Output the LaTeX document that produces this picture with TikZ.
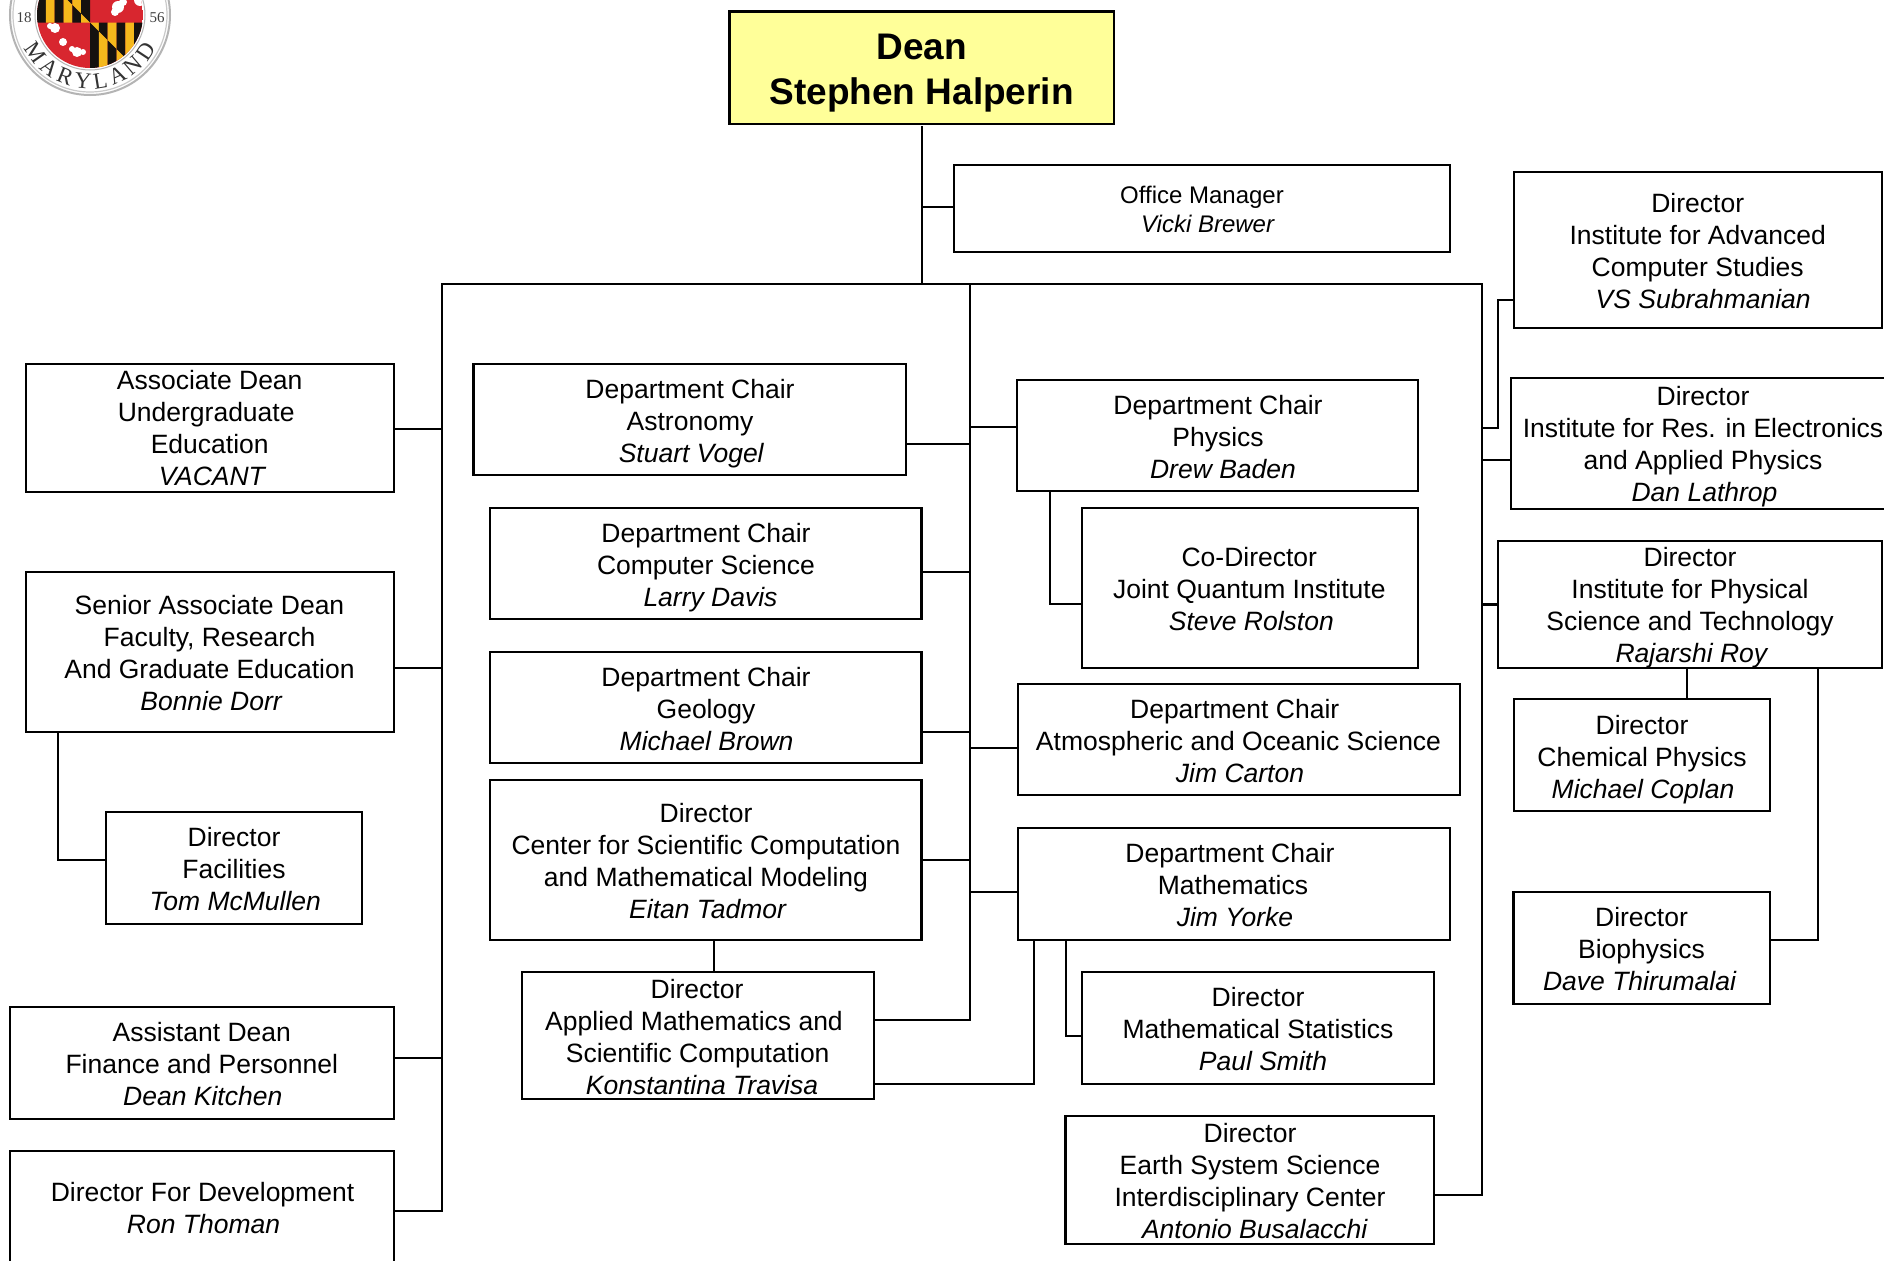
\documentclass[tikz,border=0pt]{standalone}
\usepackage{fontspec}
\setmainfont{Liberation Sans}
\newfontfamily\logoserif{Liberation Serif}
\usetikzlibrary{decorations.text}
\definecolor{deanfill}{HTML}{FFFF99}
\definecolor{cgold}{HTML}{F5B81C}
\definecolor{cblack}{HTML}{15120F}
\definecolor{cred}{HTML}{D8262F}
\definecolor{ringgrey}{HTML}{B4B4B4}
\tikzset{
  orgbox/.style={draw=black,line width=2.2pt,fill=white,inner sep=0pt,outer sep=0pt},
  orgtext/.style={inner sep=0pt,align=center,yshift=-3pt,font=\fontsize{26.5}{32}\selectfont},
  smalltext/.style={orgtext,font=\fontsize{24}{29}\selectfont},
  deantext/.style={orgtext,yshift=-1pt,font=\fontsize{37}{45}\selectfont\bfseries},
  link/.style={draw=black,line width=2.2pt,line cap=rect},
}
% [text style], name, x1, y1, x2, y2, text centre x, text centre y, text
\newcommand\OrgBox[9][orgtext]{%
  \pgfmathsetmacro\bw{#5-#3}\pgfmathsetmacro\bh{#6-#4}%
  \pgfmathsetmacro\bx{(#3+#5)/2}\pgfmathsetmacro\by{(#4+#6)/2}%
  \node[orgbox,minimum width=\bw pt,minimum height=\bh pt] (#2) at (\bx,\by) {};
  \node[#1] (#2-t) at (#7,#8) {\strut #9\strut};
}
\newcommand\Sh[1]{\hspace*{\dimexpr 2\dimexpr #1pt\relax\relax}}
\newcommand\Nm[2][4.5]{\Sh{#1}\textit{#2}}
\newcommand\Lk[3]{\draw[link] (#1 |- 0,#3) -- (#2 |- 0,#3);}
\newcommand\Calvert[2]{%
  \foreach \i in {0,...,5}{%
    \ifodd\i \def\ca{cblack}\def\cb{cgold}\else \def\ca{cgold}\def\cb{cblack}\fi
    \fill[\ca] ({#1+\i*8.84},{#2}) -- ({#1+(\i+1)*8.84},{#2}) -- ({#1+(\i+1)*8.84},{#2-(\i+1)*8.84}) -- ({#1+\i*8.84},{#2-\i*8.84}) -- cycle;
    \fill[\cb] ({#1+\i*8.84},{#2-\i*8.84}) -- ({#1+(\i+1)*8.84},{#2-(\i+1)*8.84}) -- ({#1+(\i+1)*8.84},{#2-53}) -- ({#1+\i*8.84},{#2-53}) -- cycle;
  }%
}
\begin{document}
\begin{tikzpicture}[x=1pt,y=-1pt]
\useasboundingbox (0,0) rectangle (1884,1260.5);
\clip (0,0) rectangle (1884,1262);
\fill[white] (0,0) rectangle (1884,1262);

% seal
\begin{scope}[shift={(90,15)},x=1pt,y=1pt]
  \draw[ringgrey,line width=2pt,fill=white] (0,0) circle[radius=80];
  \draw[ringgrey!70,line width=1.2pt] (0,0) circle[radius=77];
  \draw[ringgrey,line width=1pt] (0,0) circle[radius=55];
  \begin{scope}
    \clip (0,0) circle[radius=53];
    \fill[cred] (-53,-70) rectangle (53,60);
    \Calvert{-53}{45.3}
    \Calvert{0}{-7.7}
    \fill[white] (28,8) circle[radius=6] (33,13) circle[radius=4] (25,3) circle[radius=4] (50,15) circle[radius=6];
    \fill[white] (-35,-13) circle[radius=5] (-40,-11) circle[radius=3] (-27,-27) circle[radius=4] (-18,-34) circle[radius=3] (-13,-37) circle[radius=5] (-7,-37) circle[radius=3];
  \end{scope}
  \node[font=\logoserif\fontsize{15}{15}\selectfont,text=black!75,inner sep=0pt] (seal18) at (-66,-2.3) {18};
  \node[font=\logoserif\fontsize{15}{15}\selectfont,text=black!75,inner sep=0pt] (seal56) at (67,-2.3) {56};
  \path[decorate,decoration={text along path,text align={fit to path},
     text={|\logoserif\fontsize{23}{23}\selectfont\color{black!80}|MARYLAND}}]
     (207:74) arc[start angle=207,end angle=333,radius=74];
\end{scope}

% boxes
\begin{scope}[orgbox/.append style={fill=deanfill,line width=2.4pt}]
\OrgBox[deantext]{dean}{729.6}{11.7}{1113.8}{124}{921.7}{68.5}{Dean\\Stephen Halperin}
\end{scope}
\OrgBox[smalltext]{office}{953.6}{165}{1450}{252}{1202}{209}{Office Manager\\\Nm[6]{Vicki Brewer}}

\OrgBox{assoc}{25.7}{364}{394}{492}{209.7}{428.5}{Associate Dean\\\Sh{-3.5}Undergraduate\\Education\\\Nm[3]{VACANT}}
\OrgBox{senior}{25.7}{572}{394}{731.6}{209.5}{653}{Senior Associate Dean\\Faculty, Research\\And Graduate Education\\\Nm[2]{Bonnie Dorr}}
\OrgBox{fac}{105.7}{812}{362}{923.7}{234}{869}{Director\\Facilities\\\Nm[1.3]{Tom McMullen}}
\OrgBox{assist}{9.6}{1006.7}{394}{1119}{201.8}{1064.3}{Assistant Dean\\Finance and Personnel\\\Nm[1]{Dean Kitchen}}
\OrgBox{dev}{9.6}{1151}{394}{1300}{202.5}{1208}{Director For Development\\\Nm[1]{Ron Thoman}}

\OrgBox{astro}{473.4}{364}{906}{475}{690}{421}{Department Chair\\Astronomy\\\Nm[1.5]{Stuart Vogel}}
\OrgBox{cs}{489.8}{508}{921.5}{619}{706}{565}{Department Chair\\Computer Science\\\Nm{Larry Davis}}
\OrgBox{geo}{489.8}{652}{921.5}{763.3}{706}{709.3}{Department Chair\\Geology\\\Nm[0.6]{Michael Brown}}
\OrgBox{center}{489.8}{780}{921.5}{940}{706}{861}{Director\\Center for Scientific Computation\\and Mathematical Modeling\\\Nm[2]{Eitan Tadmor}}
\OrgBox{applied}{521.7}{972}{874.3}{1099}{697}{1037.5}{Director\\\Sh{-3}Applied Mathematics and\\\Sh{0.7}Scientific Computation\\\Nm[5]{Konstantina Travisa}}

\OrgBox{phys}{1017.3}{380}{1418}{491}{1218}{436.7}{Department Chair\\Physics\\\Nm[5]{Drew Baden}}
\OrgBox{codir}{1082}{508}{1417.7}{667.7}{1249.3}{589}{Co-Director\\Joint Quantum Institute\\\Nm[2]{Steve Rolston}}
\OrgBox{atmos}{1017.8}{684}{1459.8}{795}{1236}{741}{\Sh{-1.3}Department Chair\\\Sh{2.5}Atmospheric and Oceanic Science\\\Nm[4]{Jim Carton}}
\OrgBox{math}{1017.8}{828}{1449.6}{940}{1233}{885}{\Sh{-3}Department Chair\\Mathematics\\\Nm[2]{Jim Yorke}}
\OrgBox{mstat}{1081.7}{971.7}{1434}{1084}{1258}{1028.7}{Director\\Mathematical Statistics\\\Nm[5]{Paul Smith}}
\OrgBox{earth}{1065.4}{1115.7}{1434}{1243.7}{1250}{1181}{Director\\Earth System Science\\Interdisciplinary Center\\\Nm[5]{Antonio Busalacchi}}

\OrgBox{iacs}{1514}{171.7}{1882}{328}{1697.7}{251.4}{Director\\Institute for Advanced\\Computer Studies\\\Nm[5.5]{VS Subrahmanian}}
\OrgBox{ireap}{1510.7}{377.6}{1900}{508.6}{1703}{444.5}{Director\\Institute for Res. in Electronics\\and Applied Physics\\\Nm[1.5]{Dan Lathrop}}
\OrgBox{ipst}{1498}{540.7}{1881.7}{668}{1690}{605}{Director\\Institute for Physical\\Science and Technology\\\Nm[2]{Rajarshi Roy}}
\OrgBox{chem}{1514}{699}{1770}{811}{1642}{757}{Director\\Chemical Physics\\\Nm[1]{Michael Coplan}}
\OrgBox{bio}{1513.5}{892}{1770}{1004}{1641.5}{949}{Director\\Biophysics\\\Nm[-1.7]{Dave Thirumalai}}

% buses
\coordinate (busL) at (441.7,283.7);
\coordinate (busM) at (970,283.7);
\coordinate (busR) at (1482,283.7);
\draw[link,shorten <=3pt] (dean.south) -- (dean.south |- busL);
\draw[link] (busL) -- (busR);
\draw[link] (busL) -- (busL |- 0,1211);
\draw[link] (busM) -- (busM |- 0,1019.7);
\draw[link] (busR) -- (busR |- 0,1195);

% links
\Lk{dean.south}{office.west}{207}
\Lk{assoc.east}{busL}{429}
\Lk{senior.east}{busL}{667.6}
\Lk{assist.east}{busL}{1057.7}
\Lk{dev.east}{busL}{1211}
\Lk{astro.east}{busM}{444}
\Lk{cs.east}{busM}{571.7}
\Lk{geo.east}{busM}{731.7}
\Lk{center.east}{busM}{859.7}
\Lk{applied.east}{busM}{1019.7}
\Lk{busM}{phys.west}{427}
\Lk{busM}{atmos.west}{748}
\Lk{busM}{math.west}{891.7}
\Lk{earth.east}{busR}{1195}
\Lk{busR}{ireap.west}{459.7}
\Lk{busR}{ipst.west}{604.5}
\draw[link] (busR |- 0,427.6) -- (1498,427.6) -- (1498,300) -- (iacs.west |- 0,300);
\draw[link] (58,0 |- senior.south) |- (fac.west |- 0,859.8);
\draw[link] (713.6,0 |- center.south) -- (713.6,0 |- applied.north);
\draw[link] (1050,0 |- phys.south) |- (codir.west |- 0,603.7);
\draw[link] (1065.7,0 |- math.south) |- (mstat.west |- 0,1035.7);
\draw[link] (applied.east |- 0,1083.7) -| (1033.8,0 |- math.south);
\draw[link] (1687,0 |- ipst.south) -- (1687,0 |- chem.north);
\draw[link] (bio.east |- 0,939.7) -| (1818,0 |- ipst.south);
\end{tikzpicture}
\end{document}
